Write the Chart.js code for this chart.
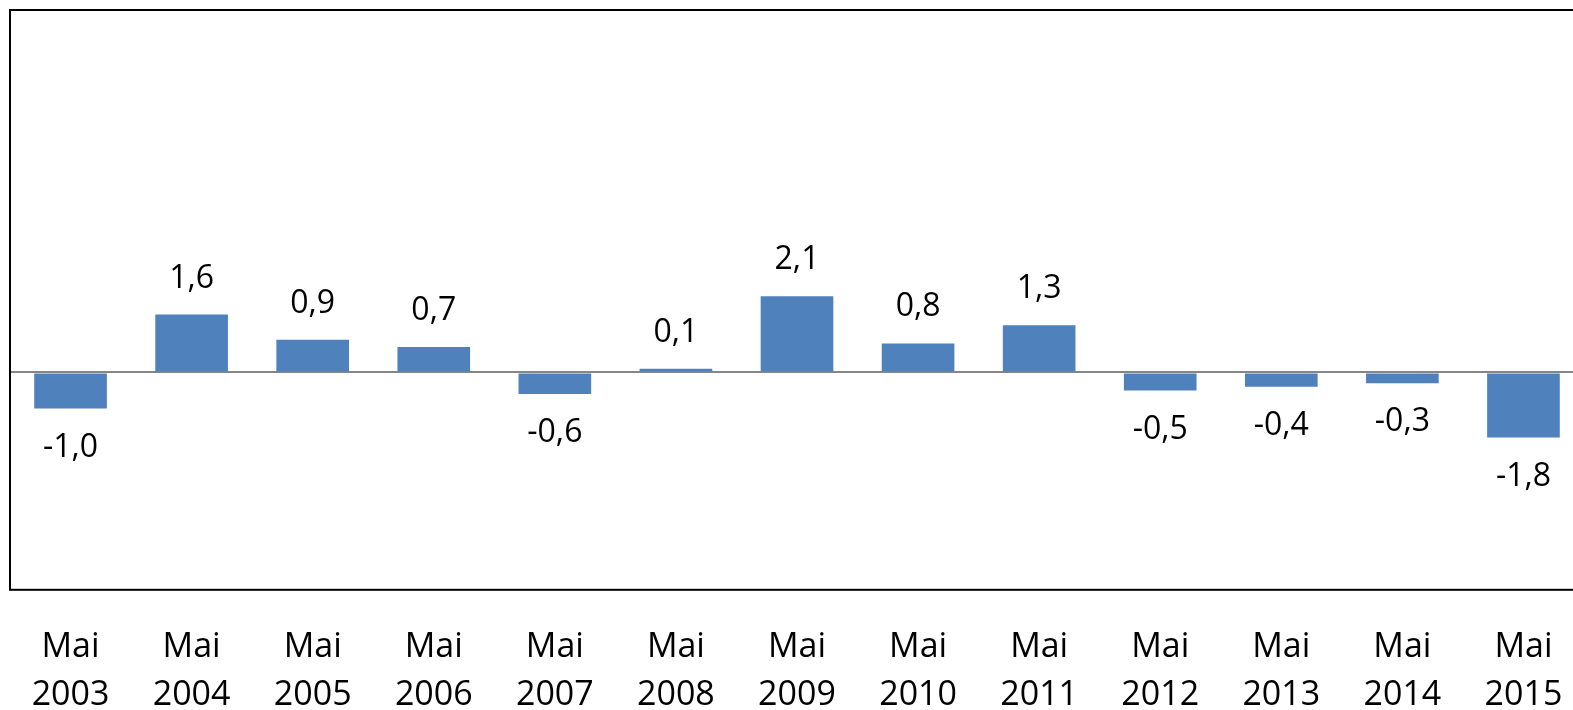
<!DOCTYPE html>
<html>
<head>
<meta charset="utf-8">
<script src="https://cdn.jsdelivr.net/npm/chart.js@4/dist/chart.umd.min.js"></script>
<style>
  html, body { margin: 0; padding: 0; background: #fff; overflow: hidden; }
</style>
</head>
<body>
<canvas id="chart" width="1600" height="753"></canvas>
<script>
const months = ['Mai', 'Mai', 'Mai', 'Mai', 'Mai', 'Mai', 'Mai', 'Mai', 'Mai', 'Mai', 'Mai', 'Mai', 'Mai'];
const years = ['2003', '2004', '2005', '2006', '2007', '2008', '2009', '2010', '2011', '2012', '2013', '2014', '2015'];
const values = [-1.0, 1.6, 0.9, 0.7, -0.6, 0.1, 2.1, 0.8, 1.3, -0.5, -0.4, -0.3, -1.8];

const FONT = "'Open Sans', 'Noto Sans', sans-serif";

// value labels above / below each bar
const barLabels = {
    id: 'barLabels',
    afterDatasetsDraw(chart) {
        const ctx = chart.ctx;
        const meta = chart.getDatasetMeta(0);
        ctx.save();
        ctx.font = '32px ' + FONT;
        ctx.fillStyle = '#000';
        ctx.textAlign = 'center';
        ctx.textBaseline = 'middle';
        meta.data.forEach((bar, i) => {
            const v = values[i];
            const txt = v.toFixed(1).replace('.', ',');
            const y = v >= 0 ? bar.y - 36 : bar.y + 39;
            ctx.fillText(txt, bar.x, y);
        });
        ctx.restore();
    }
};

// black frame round the plot area
const plotFrame = {
    id: 'plotFrame',
    afterDraw(chart) {
        const a = chart.chartArea;
        const ctx = chart.ctx;
        ctx.save();
        ctx.strokeStyle = '#000';
        ctx.lineWidth = 2;
        ctx.strokeRect(a.left, a.top, a.right - a.left, a.bottom - a.top);
        ctx.restore();
    }
};

new Chart(document.getElementById('chart').getContext('2d'), {
    type: 'bar',
    data: {
        labels: months.map((m, i) => [m, years[i]]),
        datasets: [{
            data: values,
            backgroundColor: '#4F81BD',
            borderWidth: 0,
            barPercentage: 0.6,
            categoryPercentage: 1.0
        }]
    },
    options: {
        responsive: false,
        animation: false,
        layout: { padding: { left: 10, right: 16, top: 10, bottom: 0 } },
        plugins: {
            legend: { display: false },
            tooltip: { enabled: false }
        },
        scales: {
            x: {
                afterFit: s => { s.paddingLeft = 0; s.paddingRight = 0; },
                grid: { display: false, drawTicks: false },
                border: { display: false },
                ticks: {
                    color: '#000',
                    padding: 34,
                    font: { family: FONT, size: 34, lineHeight: 1.4 },
                    maxRotation: 0,
                    autoSkip: false
                }
            },
            y: {
                min: -6,
                max: 10,
                afterFit: s => { s.width = 0; },
                ticks: { display: false, stepSize: 2 },
                border: { display: false },
                grid: {
                    drawTicks: false,
                    lineWidth: 2,
                    color: c => c.tick && c.tick.value === 0 ? '#868686' : 'rgba(0,0,0,0)'
                }
            }
        }
    },
    plugins: [barLabels, plotFrame]
});
</script>
</body>
</html>
